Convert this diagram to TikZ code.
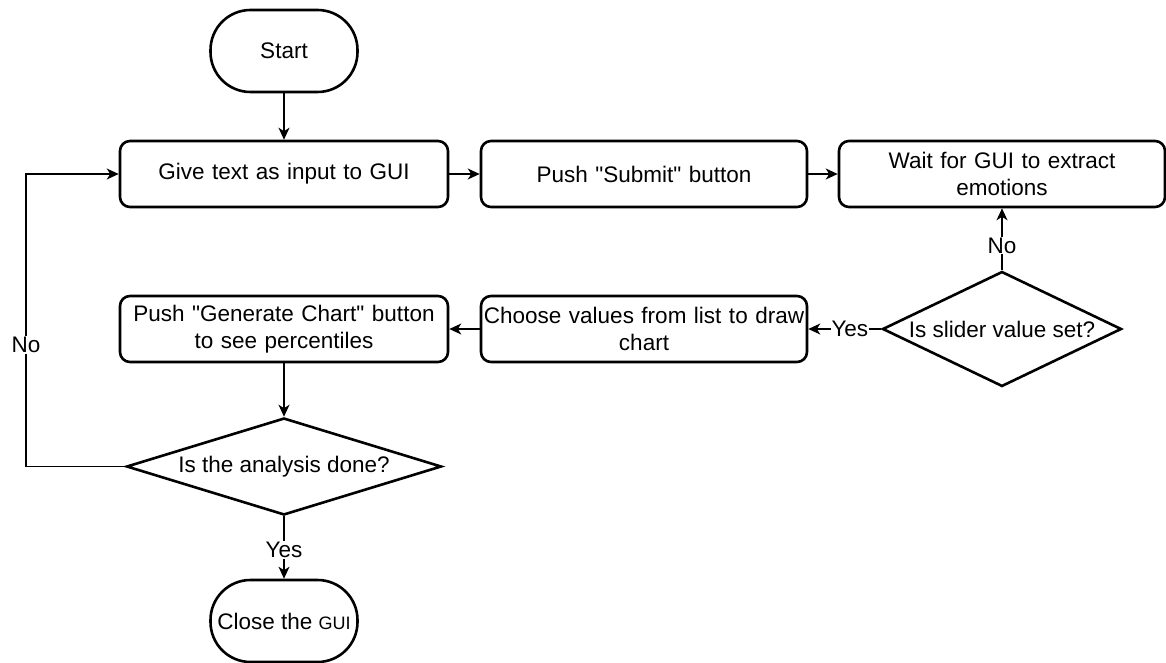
\documentclass[tikz,border=0pt]{standalone}
\usepackage{fontspec}
\setmainfont{Liberation Sans}[Ligatures=TeXOff]
\usetikzlibrary{shapes.geometric,arrows.meta}

\begin{document}
\begin{tikzpicture}[x=1pt,y=-1pt,
  every node/.style={font=\fontsize{22.5}{27.5}\selectfont},
  process/.style={draw, line width=2.6pt, rounded corners=10pt,
    minimum width=326pt, minimum height=66pt, inner sep=0pt,
    text width=326pt, align=center},
  terminal/.style={draw, line width=2.6pt, rounded corners=40pt,
    minimum width=147pt, minimum height=82pt, inner sep=0pt},
  decision/.style={draw, diamond, line width=2.6pt, inner sep=0pt},
  flow/.style={line width=1.5pt, -{Stealth[length=12pt,width=11pt,inset=3.5pt]}},
  lbl/.style={fill=white, inner sep=1pt}
]
\useasboundingbox (0,0) rectangle (1166,663);

% steps of the flow
\node[terminal] (start) at (284,51) {Start};
\node[process, minimum width=328pt] (give) at (284,174) {Give text as input to GUI};
\node[process] (submit) at (644,174) {Push "Submit" button};
\node[process] (wait) at (1002,174) {Wait for GUI to extract\\emotions};
\node[decision, minimum width=239pt, minimum height=115pt] (slider) at (1002,329)
  {\makebox[0pt]{Is slider value set?}};
\node[process] (choose) at (644,329) {Choose values from list to draw\\chart};
\node[process, minimum width=328pt] (gen) at (284,329) {Push "Generate Chart" button\\to see percentiles};
\node[decision, minimum width=315pt, minimum height=97pt] (done) at (284,466.5)
  {\makebox[0pt]{Is the analysis done?}};
\node[terminal] (close) at (284,621) {Close the {\fontsize{18}{20}\selectfont GUI}};

% connectors
\draw[flow] (start) -- (give);
\draw[flow] (give) -- (submit);
\draw[flow] (submit) -- (wait);
\draw[flow] (slider) -- node[lbl, pos=0.4] {No} (wait);
\draw[flow] (slider) -- node[lbl, pos=0.43] {Yes} (choose);
\draw[flow] (choose) -- (gen);
\draw[flow] (gen) -- (done);
\draw[flow] (done) -- node[lbl, pos=0.54] {Yes} (close);

% loop back when the analysis is not finished
\coordinate (loopNo) at (26,345);
\draw[flow] (done.west) -| (loopNo) |- (give.west);
\node[lbl] (nolabel) at (loopNo) {No};
\end{tikzpicture}
\end{document}
